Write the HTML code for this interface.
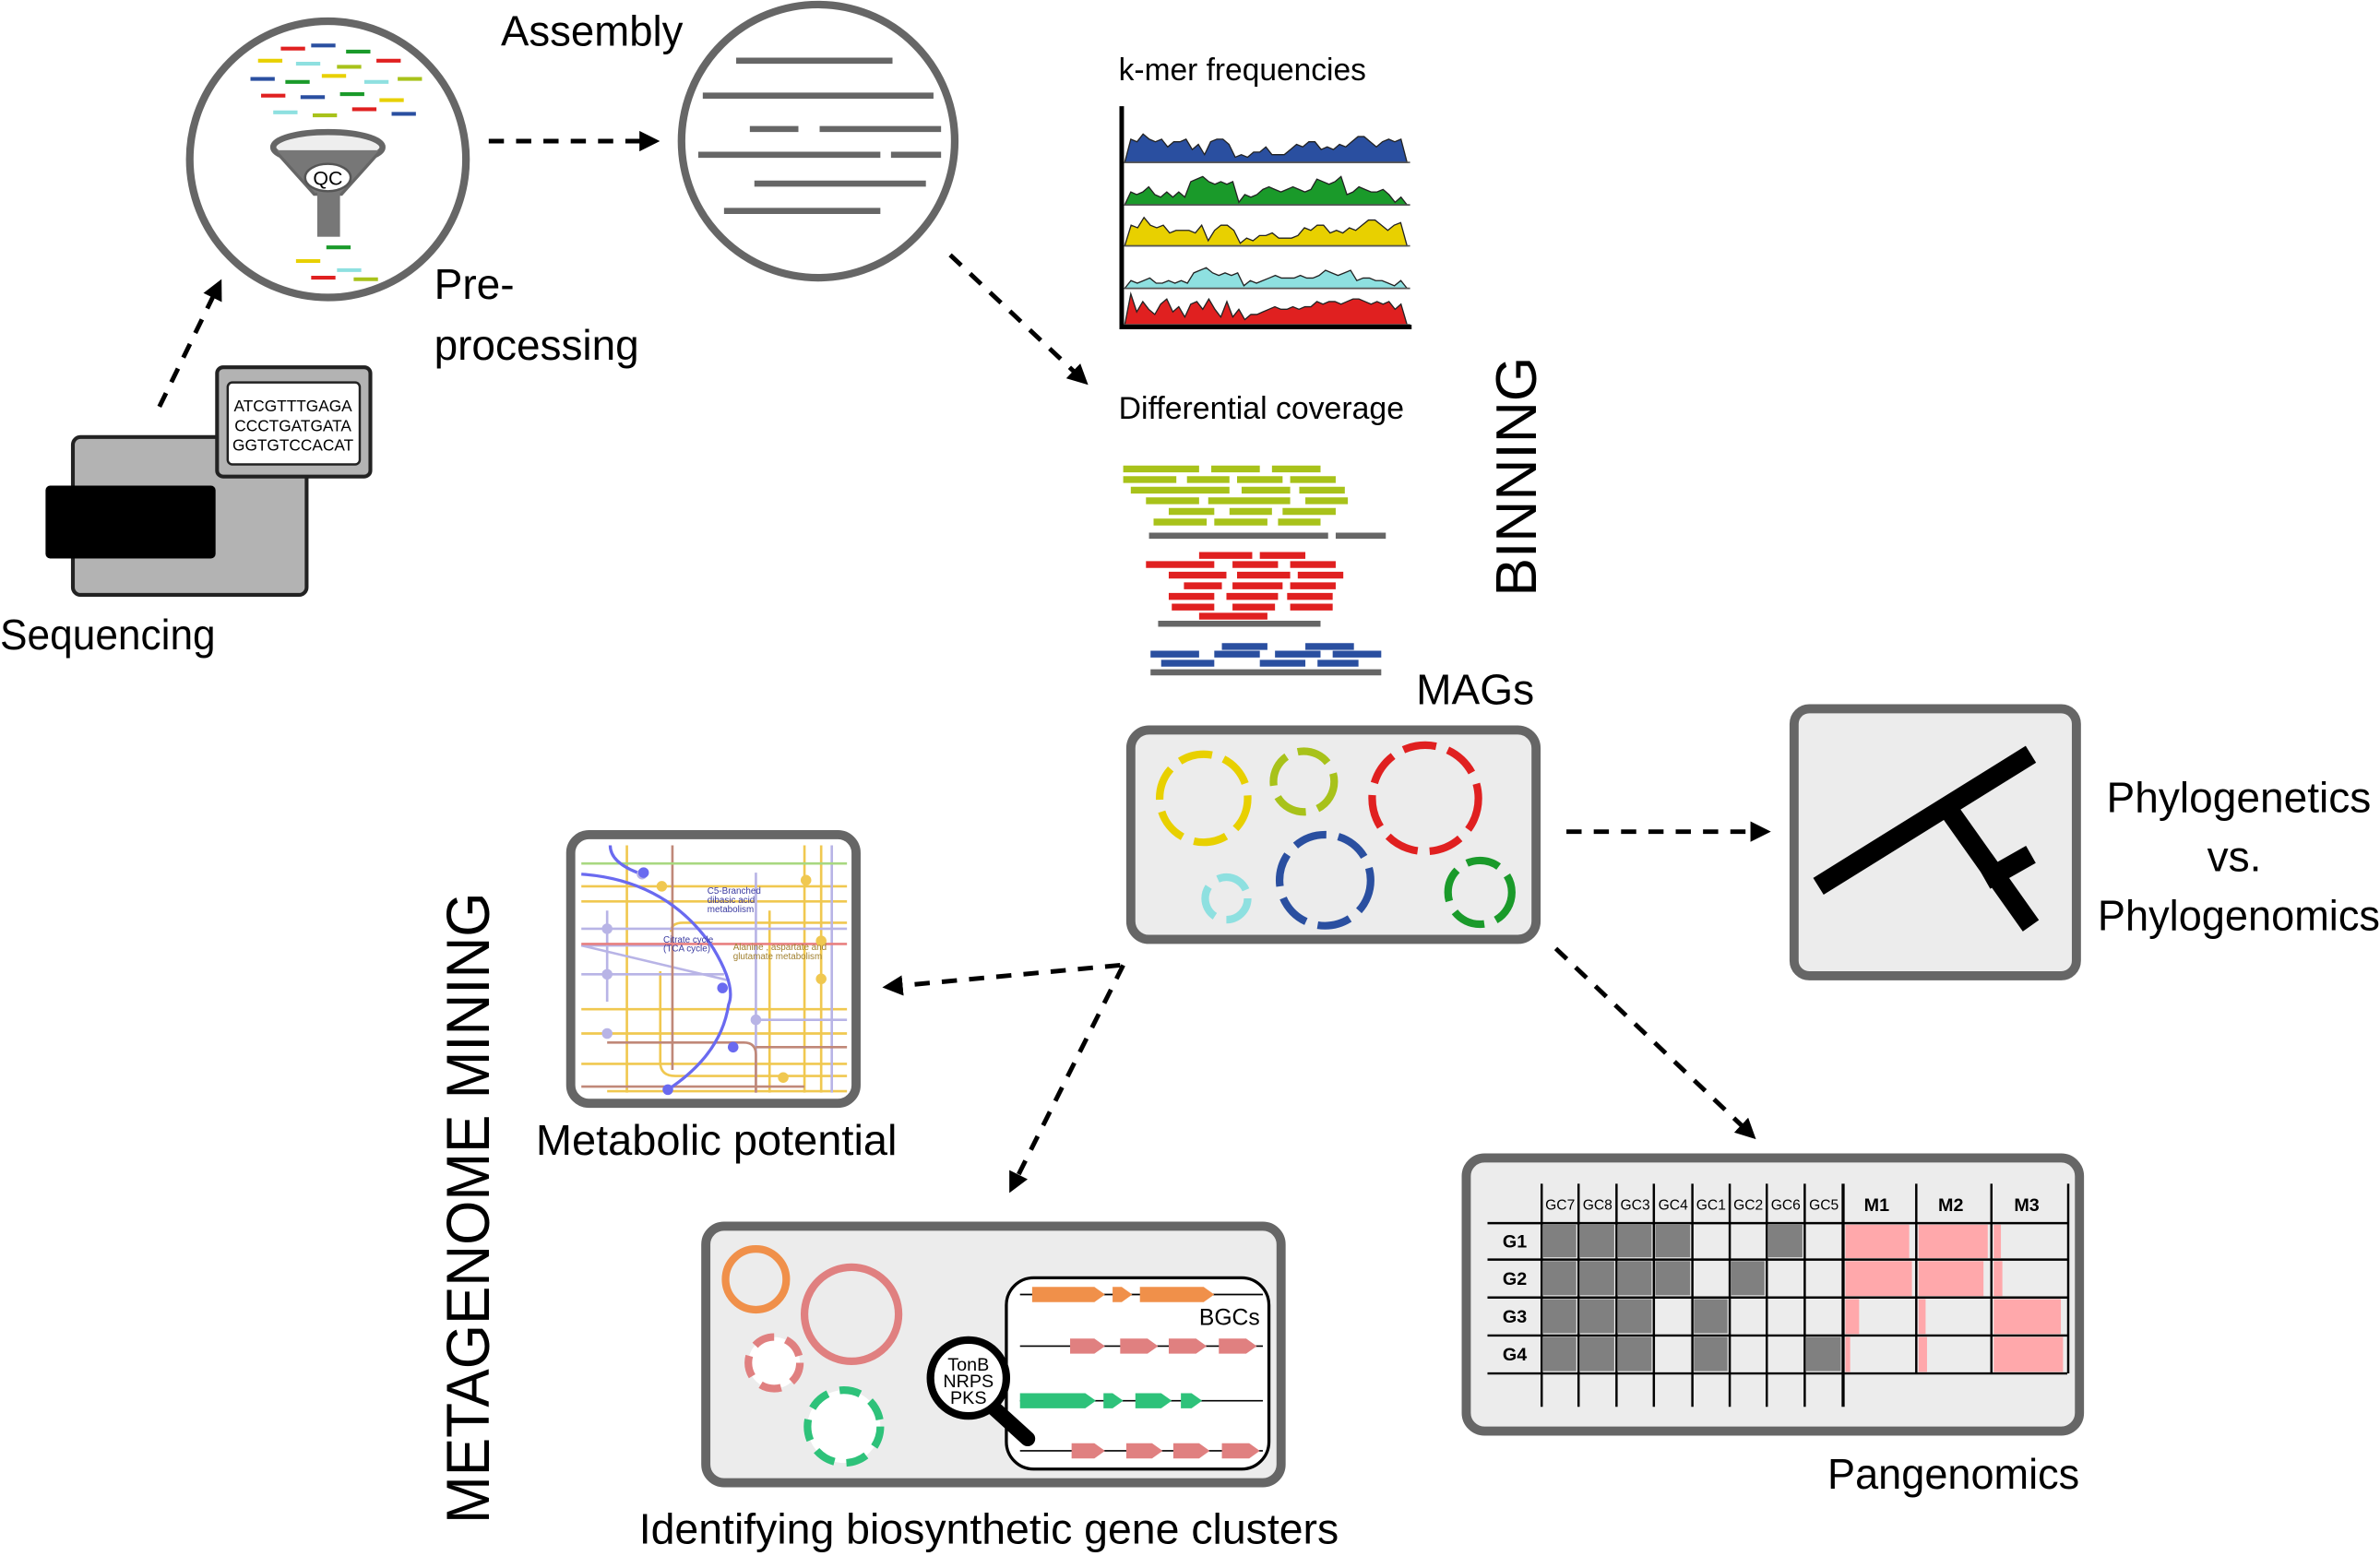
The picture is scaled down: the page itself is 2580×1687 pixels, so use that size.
<!DOCTYPE html>
<html><head><meta charset="utf-8">
<style>
html,body{margin:0;padding:0;background:#fff;}
svg{display:block;}
text{font-family:"Liberation Sans",sans-serif;}
</style></head>
<body>
<svg id="fig" width="2580" height="1687" viewBox="0 0 1568 1025.3" xmlns="http://www.w3.org/2000/svg">
<defs>
<marker id="ah" viewBox="0 0 10 10" refX="5" refY="5" markerWidth="4.5" markerHeight="4.5" orient="auto"><path d="M0,0 L10,5 L0,10 z" fill="#000"/></marker>
</defs>

<!-- Sequencing -->
<g>
<rect x="48" y="288" width="154" height="104" rx="5" fill="#b3b3b3" stroke="#222" stroke-width="2.5"/>
<rect x="30" y="320" width="112" height="48" rx="3" fill="#000"/>
<rect x="143" y="242" width="101" height="72" rx="4" fill="#b3b3b3" stroke="#222" stroke-width="2.5"/>
<rect x="150" y="252" width="87" height="54" rx="3" fill="#fff" stroke="#222" stroke-width="1.5"/>
<text x="193" y="271" font-size="10.5" text-anchor="middle">ATCGTTTGAGA</text>
<text x="193" y="284" font-size="10.5" text-anchor="middle">CCCTGATGATA</text>
<text x="193" y="297" font-size="10.5" text-anchor="middle">GGTGTCCACAT</text>
</g>
<text x="0" y="428" font-size="28" textLength="142" lengthAdjust="spacingAndGlyphs">Sequencing</text>

<!-- dashed arrows -->
<g fill="none" stroke="#000" stroke-width="3" stroke-dasharray="10,8" marker-end="url(#ah)">
<line x1="105" y1="268" x2="143" y2="190"/>
<line x1="322" y1="93" x2="428" y2="93"/>
<line x1="626" y1="168" x2="712" y2="249"/>
<line x1="738" y1="636" x2="588" y2="650"/>
<line x1="740" y1="636" x2="668" y2="780"/>
<line x1="1032" y1="548" x2="1160" y2="548"/>
<line x1="1025" y1="625" x2="1152" y2="746"/>
</g>

<!-- Preprocessing circle -->
<g>
<circle cx="216" cy="105" r="91" fill="#fff" stroke="#666" stroke-width="5"/>
<g stroke-width="2.5" id="reads"></g>
<ellipse cx="216" cy="97" rx="36" ry="10" fill="#eee" stroke="#666" stroke-width="4"/>
<path d="M181,99 L207,128 L225,128 L251,99" fill="#777" stroke="#666" stroke-width="2"/>
<rect x="209" y="125" width="15" height="31" fill="#777"/>
<ellipse cx="216" cy="117" rx="15" ry="9" fill="#fff" stroke="#555" stroke-width="1.5"/>
<text x="216" y="122" font-size="13" text-anchor="middle">QC</text>
</g>
<text x="286" y="197" font-size="28">Pre-</text>
<text x="286" y="237" font-size="28" textLength="135" lengthAdjust="spacingAndGlyphs">processing</text>

<!-- Assembly -->
<text x="330" y="30" font-size="28" textLength="120" lengthAdjust="spacingAndGlyphs">Assembly</text>
<g stroke="#666" stroke-width="4">
<circle cx="539" cy="93" r="90" fill="#fff" stroke-width="5"/>
<line x1="485" y1="40" x2="588" y2="40"/><line x1="463" y1="63" x2="615" y2="63"/>
<line x1="494" y1="85" x2="526" y2="85"/><line x1="540" y1="85" x2="620" y2="85"/>
<line x1="460" y1="102" x2="580" y2="102"/><line x1="587" y1="102" x2="620" y2="102"/>
<line x1="497" y1="121" x2="610" y2="121"/><line x1="477" y1="139" x2="580" y2="139"/>
</g>

<!-- k-mer -->
<text x="737" y="53" font-size="21" textLength="163" lengthAdjust="spacingAndGlyphs">k-mer frequencies</text>
<g id="kmer"></g>

<!-- Differential coverage -->
<text x="737" y="276" font-size="21" textLength="188" lengthAdjust="spacingAndGlyphs">Differential coverage</text>
<g id="cov" stroke-width="4.5"></g>

<text transform="translate(1012,393) rotate(-90)" font-size="38" textLength="158" lengthAdjust="spacingAndGlyphs">BINNING</text>
<text x="933" y="464" font-size="28">MAGs</text>

<!-- MAG box -->
<g>
<rect x="745" y="481" width="267" height="138" rx="12" fill="#ececec" stroke="#666" stroke-width="6"/>
<g fill="none" stroke-width="5" stroke-dasharray="22,8">
<circle cx="793" cy="526" r="29" stroke="#e8d000"/>
<circle cx="859" cy="515" r="20" stroke="#a8c21a"/>
<circle cx="939" cy="526" r="35" stroke="#e02020"/>
<circle cx="808" cy="592" r="14" stroke="#8ee0e0"/>
<circle cx="873" cy="580" r="30" stroke="#2a4fa0"/>
<circle cx="975" cy="588" r="21" stroke="#1a9a2a"/>
</g>
</g>

<!-- Phylo -->
<g>
<rect x="1182" y="467" width="186" height="176" rx="10" fill="#ececec" stroke="#666" stroke-width="6"/>
<g stroke="#000" stroke-width="13">
<line x1="1198" y1="584" x2="1338" y2="497"/>
<line x1="1282" y1="531" x2="1338" y2="610"/>
<line x1="1308" y1="580" x2="1338" y2="563"/>
</g>
</g>
<g font-size="28" text-anchor="middle">
<text x="1475" y="535">Phylogenetics</text><text x="1472" y="574">vs.</text><text x="1475" y="613" textLength="186" lengthAdjust="spacingAndGlyphs">Phylogenomics</text>
</g>

<!-- Metabolic -->
<g>
<rect x="376" y="550" width="188" height="177" rx="12" fill="#fff" stroke="#666" stroke-width="6"/>
<g fill="none" stroke-width="1.6">
<g stroke="#f0c850">
<line x1="383" y1="584" x2="558" y2="584"/><line x1="383" y1="594" x2="558" y2="594"/>
<line x1="383" y1="665" x2="558" y2="665"/><line x1="383" y1="681" x2="558" y2="681"/>
<line x1="383" y1="701" x2="558" y2="701"/><line x1="400" y1="719" x2="558" y2="719"/>
<line x1="413" y1="557" x2="413" y2="720"/><line x1="530" y1="557" x2="530" y2="720"/>
<line x1="541" y1="557" x2="541" y2="720"/><line x1="507" y1="600" x2="507" y2="720"/>
<path d="M442,614 Q442,608 450,608 L558,608"/><path d="M435,640 L435,700 Q435,709 445,709 L558,709"/>
</g>
<g stroke="#b8b4e6"><line x1="383" y1="612" x2="558" y2="612"/><line x1="383" y1="623" x2="441" y2="623"/>
<line x1="383" y1="642" x2="477" y2="642"/><line x1="400" y1="600" x2="400" y2="660"/><line x1="548" y1="557" x2="548" y2="720"/>
<line x1="498" y1="575" x2="498" y2="720"/><line x1="383" y1="623" x2="480" y2="646"/><line x1="498" y1="672" x2="558" y2="672"/></g>
<g stroke="#c08878"><line x1="443" y1="557" x2="443" y2="705"/><line x1="383" y1="716" x2="530" y2="716"/><path d="M400,687 L490,687 Q498,687 498,695 L498,720"/><line x1="498" y1="690" x2="558" y2="690"/></g>
<line x1="383" y1="622" x2="558" y2="622" stroke="#e88080"/>
<line x1="383" y1="569" x2="558" y2="569" stroke="#a8d880"/>
<path d="M383,576 Q440,580 470,625 Q485,650 480,662 Q475,695 440,718" stroke="#6a6af0" stroke-width="2"/>
<path d="M402,557 Q402,568 420,575" stroke="#6a6af0" stroke-width="2"/>
</g>
<g fill="#f0c850"><circle cx="436" cy="584" r="3.5"/><circle cx="531" cy="580" r="3.5"/><circle cx="541" cy="620" r="3.5"/><circle cx="541" cy="645" r="3.5"/><circle cx="516" cy="710" r="3.5"/></g>
<g fill="#b8b4e6"><circle cx="400" cy="612" r="3.5"/><circle cx="400" cy="642" r="3.5"/><circle cx="400" cy="681" r="3.5"/><circle cx="423" cy="576" r="3.5"/><circle cx="498" cy="672" r="3.5"/></g>
<g fill="#6a6af0"><circle cx="424" cy="575" r="3.5"/><circle cx="476" cy="651" r="3.5"/><circle cx="483" cy="690" r="3.5"/><circle cx="440" cy="718" r="3.5"/></g>
<g fill="#3a3aa0" font-size="6"><text x="466" y="589">C5-Branched</text><text x="466" y="595">dibasic acid</text><text x="466" y="601">metabolism</text><text x="437" y="621">Citrate cycle</text><text x="437" y="627">(TCA cycle)</text></g>
<g fill="#a08030" font-size="6"><text x="483" y="626">Alanine , aspartate and</text><text x="483" y="632">glutamate metabolism</text></g>
</g>
<text x="353" y="761" font-size="28" textLength="238" lengthAdjust="spacingAndGlyphs">Metabolic potential</text>

<text transform="translate(322,1004) rotate(-90)" font-size="40" textLength="416" lengthAdjust="spacingAndGlyphs">METAGENOME MINING</text>

<!-- BGC box -->
<g>
<rect x="465" y="808" width="379" height="169" rx="12" fill="#ececec" stroke="#666" stroke-width="6"/>
<circle cx="498" cy="843" r="20" fill="none" stroke="#f0904a" stroke-width="5"/>
<circle cx="561" cy="866" r="31" fill="none" stroke="#e08080" stroke-width="5"/>
<circle cx="510" cy="898" r="17" fill="#fff" stroke="#e08080" stroke-width="5" stroke-dasharray="14,8"/>
<circle cx="556" cy="940" r="24" fill="#fff" stroke="#2ec27a" stroke-width="5" stroke-dasharray="14,8"/>
<rect x="663" y="842" width="173" height="126" rx="18" fill="#fff" stroke="#000" stroke-width="2"/>
<g id="genes"></g>
<text x="790" y="873" font-size="15">BGCs</text>
<line x1="655" y1="928" x2="677" y2="948" stroke="#000" stroke-width="10" stroke-linecap="round"/>
<circle cx="638" cy="908" r="25" fill="#fff" stroke="#000" stroke-width="5"/>
<g font-size="12" text-anchor="middle"><text x="638" y="903">TonB</text><text x="638" y="914">NRPS</text><text x="638" y="925">PKS</text></g>
</g>
<text x="421" y="1017" font-size="28" textLength="461" lengthAdjust="spacingAndGlyphs">Identifying biosynthetic gene clusters</text>

<!-- Pangenomics -->
<g>
<rect x="966" y="763" width="404" height="180" rx="12" fill="#ececec" stroke="#666" stroke-width="6"/>
<g id="pan"></g>
</g>
<text x="1204" y="981" font-size="28" textLength="166" lengthAdjust="spacingAndGlyphs">Pangenomics</text>
</svg>

<script>
const NS="http://www.w3.org/2000/svg";
function mk(tag,attrs,parent){const e=document.createElementNS(NS,tag);for(const k in attrs)e.setAttribute(k,attrs[k]);parent.appendChild(e);return e;}

// preprocessing reads (decorative)
const readColors=["#e02020","#2a4fa0","#1a9a2a","#e8d000","#8ee0e0","#a8c21a"];
const readRows=[[185,32],[205,30],[228,34],[170,40],[195,42],[222,44],[248,40],[165,52],[188,54],[212,50],[240,54],[262,52],[172,63],[198,64],[224,62],[250,66],[180,74],[206,76],[232,72],[258,75],[215,163],[195,172],[222,178],[233,184],[205,183]];
const rg=document.getElementById('reads');
readRows.forEach((r,i)=>{const l=mk('line',{x1:r[0],y1:r[1],x2:r[0]+16,y2:r[1],stroke:readColors[i%6]},rg);

});

// k-mer chart data
const kmerBlue=[0,9,8,11,9,8,9,6,8,8,9,5,7,3,8,9,9,7,2,3,2,4,4,6,3,3,3,5,7,6,8,8,5,6,5,7,6,8,10,10,8,6,8,9,8,9,0];
const kmerGreen=[0,5,4,5,7,4,3,5,3,5,3,9,10,11,9,8,9,8,9,1,4,3,4,6,7,6,5,6,7,6,5,6,10,9,8,9,11,4,5,7,6,5,5,6,4,1,3,0];
const kmerYellow=[0,8,7,11,8,7,8,5,6,6,6,5,8,2,6,8,8,6,1,3,2,4,4,5,3,3,3,4,7,6,8,8,5,6,5,7,6,8,10,10,8,6,8,9,0];
const kmerCyan=[0,3,2,3,4,2,2,3,2,3,2,6,7,8,6,5,6,5,6,1,3,2,3,4,5,4,4,4,5,4,4,5,7,6,5,6,7,3,4,4,3,3,2,1,3,0];
const kmerRed=[0,12,5,9,6,4,8,10,5,7,3,8,9,6,10,6,3,9,3,6,2,4,4,5,6,7,6,6,7,6,7,7,9,8,9,9,8,9,10,10,9,8,9,8,9,6,8,0];
const kmerSeries=[kmerBlue,kmerGreen,kmerYellow,kmerCyan,kmerRed];
const kmerColors=["#2a4fa0","#1a9a2a","#e8d000","#8ee0e0","#e02020"];
const kmerNames=["kmer-band-blue","kmer-band-green","kmer-band-yellow","kmer-band-cyan","kmer-band-red"];
const kg=document.getElementById('kmer');
const kx0=741,kx1=927,baseY=[107,135,162,190,214],kScale=1.7;
kmerSeries.forEach((s,i)=>{
  const n=s.length;const X=j=>kx0+(kx1-kx0)*j/(n-1);const Y=v=>baseY[i]-v*kScale;
  let d='M'+X(0)+','+baseY[i];s.forEach((v,j)=>d+=' L'+X(j).toFixed(1)+','+Y(v).toFixed(1));d+=' L'+kx1+','+baseY[i]+' Z';
  const p=mk('path',{d:d,fill:kmerColors[i],stroke:'#222','stroke-width':0.8},kg);
  
  
  mk('line',{x1:kx0,y1:baseY[i],x2:kx1+2,y2:baseY[i],stroke:'#555','stroke-width':1},kg);
});
const ax=mk('path',{d:'M739,70 L739,215.5 L930,215.5',fill:'none',stroke:'#000','stroke-width':3},kg);



// coverage reads
const covGreen=[[740,309,790,309],[798,309,830,309],[838,309,870,309],[740,316,775,316],[782,316,810,316],[815,316,845,316],[850,316,880,316],[745,323,810,323],[818,323,850,323],[856,323,886,323],[755,330,790,330],[796,330,850,330],[860,330,888,330],[770,337,800,337],[810,337,838,337],[845,337,880,337],[760,344,795,344],[800,344,835,344],[842,344,870,344]];
const covRed=[[790,366,825,366],[830,366,860,366],[755,372,800,372],[812,372,842,372],[850,372,880,372],[770,379,808,379],[815,379,850,379],[855,379,885,379],[780,386,805,386],[812,386,845,386],[850,386,880,386],[770,393,800,393],[808,393,842,393],[848,393,878,393],[772,400,800,400],[812,400,840,400],[850,400,878,400],[790,406,835,406]];
const covBlue=[[805,426,835,426],[860,426,892,426],[758,431,790,431],[800,431,830,431],[840,431,870,431],[878,431,910,431],[765,437,800,437],[830,437,860,437],[868,437,895,437]];
const covGray=[[757,353,875,353],[880,353,913,353],[763,411,870,411],[758,443,910,443]];
const cg=document.getElementById('cov');
[[covGreen,'#a8c21a','coverage-read-green'],[covRed,'#e02020','coverage-read-red'],[covBlue,'#2a4fa0','coverage-read-blue'],[covGray,'#666','contig-line']].forEach(([arr,c,nm])=>{
 arr.forEach(r=>{const l=mk('line',{x1:r[0],y1:r[1],x2:r[2],y2:r[3],stroke:c,'stroke-width':c==='#666'?4:4.5},cg);
 
 });
});

// gene arrows
const gg=document.getElementById('genes');
const geneRows=[{y:853,c:'#f0904a',g:[[680,728],[733,746],[751,800]]},{y:887,c:'#e08080',g:[[705,728],[738,763],[770,795],[803,828]]},{y:923,c:'#2ec27a',g:[[672,722],[727,740],[748,772],[778,792]]},{y:956,c:'#e08080',g:[[706,728],[742,766],[773,797],[805,830]]}];
geneRows.forEach(r=>{
 mk('line',{x1:672,y1:r.y,x2:832,y2:r.y,stroke:'#000','stroke-width':1},gg);
 r.g.forEach(g=>{const h=5,t=7;const p=mk('path',{d:`M${g[0]},${r.y-h} L${g[1]-t},${r.y-h} L${g[1]},${r.y} L${g[1]-t},${r.y+h} L${g[0]},${r.y+h} Z`,fill:r.c},gg);
 
 });
});

// pangenome table data
const gcCols=["GC7","GC8","GC3","GC4","GC1","GC2","GC6","GC5"];
const mCols=["M1","M2","M3"];
const genomes=["G1","G2","G3","G4"];
const presence=[[1,1,1,1,0,0,1,0],[1,1,1,1,0,1,0,0],[1,1,1,0,1,0,0,0],[1,1,1,0,1,0,0,1]];
const moduleComplete=[[0.93,0.98,0.1],[0.97,0.92,0.12],[0.2,0.1,0.93],[0.07,0.12,0.96]];
const pg=document.getElementById('pan');
const colX=[1015.7,1040,1065,1089.6,1115,1139.6,1164,1189,1214.3];
const mX=[1214.3,1262.5,1312,1362.6];
const rowY=[806,830,855,880,905];
const xL=985;
genomes.forEach((g,r)=>{
 presence[r].forEach((v,c)=>{if(v){const e=mk('rect',{x:colX[c]+1,y:rowY[r]+1,width:colX[c+1]-colX[c]-2.5,height:rowY[r+1]-rowY[r]-2.5,fill:'#808080'},pg);
 
 }});
 moduleComplete[r].forEach((v,c)=>{const w=(mX[c+1]-mX[c]-3)*v;const e=mk('rect',{x:mX[c]+1.5,y:rowY[r]+1,width:w,height:rowY[r+1]-rowY[r]-2,fill:'#ffa8ab'},pg);
 
 });
 const t=mk('text',{x:998,y:(rowY[r]+rowY[r+1])/2+4,'font-size':12,'font-weight':'bold','text-anchor':'middle'},pg);t.textContent=g;
 
 
});
gcCols.forEach((n,c)=>{const t=mk('text',{x:(colX[c]+colX[c+1])/2,y:797,'font-size':9.5,'text-anchor':'middle'},pg);t.textContent=n;
 
 });
mCols.forEach((n,c)=>{const t=mk('text',{x:(mX[c]+mX[c+1])/2-2,y:798,'font-size':12,'font-weight':'bold','text-anchor':'middle'},pg);t.textContent=n;
 
 });
colX.forEach((x,i)=>mk('line',{x1:x,y1:780,x2:x,y2:927,stroke:'#000','stroke-width':i===8?2:1.5},pg));
mX.slice(1).forEach(x=>mk('line',{x1:x,y1:780,x2:x,y2:905,stroke:'#000','stroke-width':1.5},pg));
rowY.forEach(y=>mk('line',{x1:980,y1:y,x2:1362,y2:y,stroke:'#000','stroke-width':1.5},pg));
</script>
</body></html>
